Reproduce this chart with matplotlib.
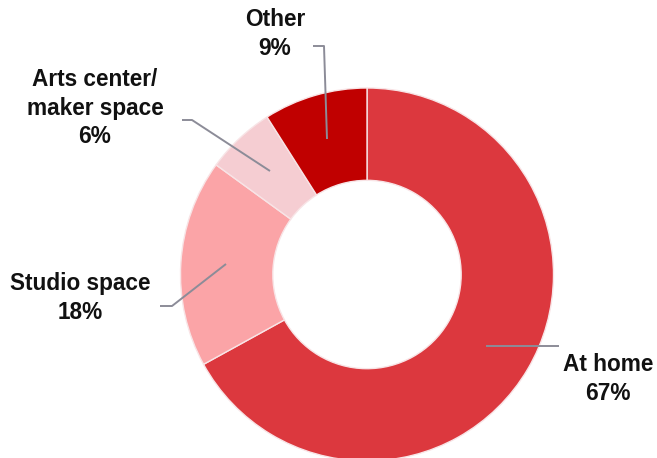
import matplotlib
matplotlib.use('Agg')
import matplotlib.pyplot as plt

# slice data, clockwise from 12 o'clock
labels = ['At home', 'Studio space', 'Arts center/\nmaker space', 'Other']
shares = [67, 18, 6, 9]
colors = ['#DC383E', '#FBA4A7', '#F5CDD2', '#C00000']

# label block centres and leader lines, image pixel coords (y down)
label_xy = [(608, 379), (80, 298), (95, 108), (275, 34)]
leaders = [
  [(486, 346), (559, 346)],
  [(226, 264), (172, 306), (160, 306)],
  [(270, 171), (192, 120), (182, 120)],
  [(327, 139), (324, 46), (313, 46)],
]

W, H = 657, 458
fig = plt.figure(figsize=(W/100.0, H/100.0), dpi=100)
ax = fig.add_axes([0, 0, 1, 1])

cx, cy, R = 367, 274.5, 186.5
ax.pie(shares, colors=colors, startangle=90, counterclock=False,
       center=(cx, H - cy), radius=R,
       wedgeprops=dict(width=R*0.495, edgecolor='#F8E4E6', linewidth=1.0))

for pts in leaders:
  xs = [p[0] for p in pts]
  ys = [H - p[1] for p in pts]
  ax.plot(xs, ys, color='#8C8C98', lw=1.4, solid_capstyle='butt')

for lab, share, (x, y) in zip(labels, shares, label_xy):
  ax.text(x, H - y, '%s\n%d%%' % (lab, share), ha='center', va='center',
          fontsize=16.3, fontweight='bold', family='Liberation Sans',
          color='#111111', linespacing=1.28)

ax.set_xlim(0, W)
ax.set_ylim(0, H)
ax.set_aspect('equal')
ax.axis('off')

fig.savefig('out.png', dpi=100)
